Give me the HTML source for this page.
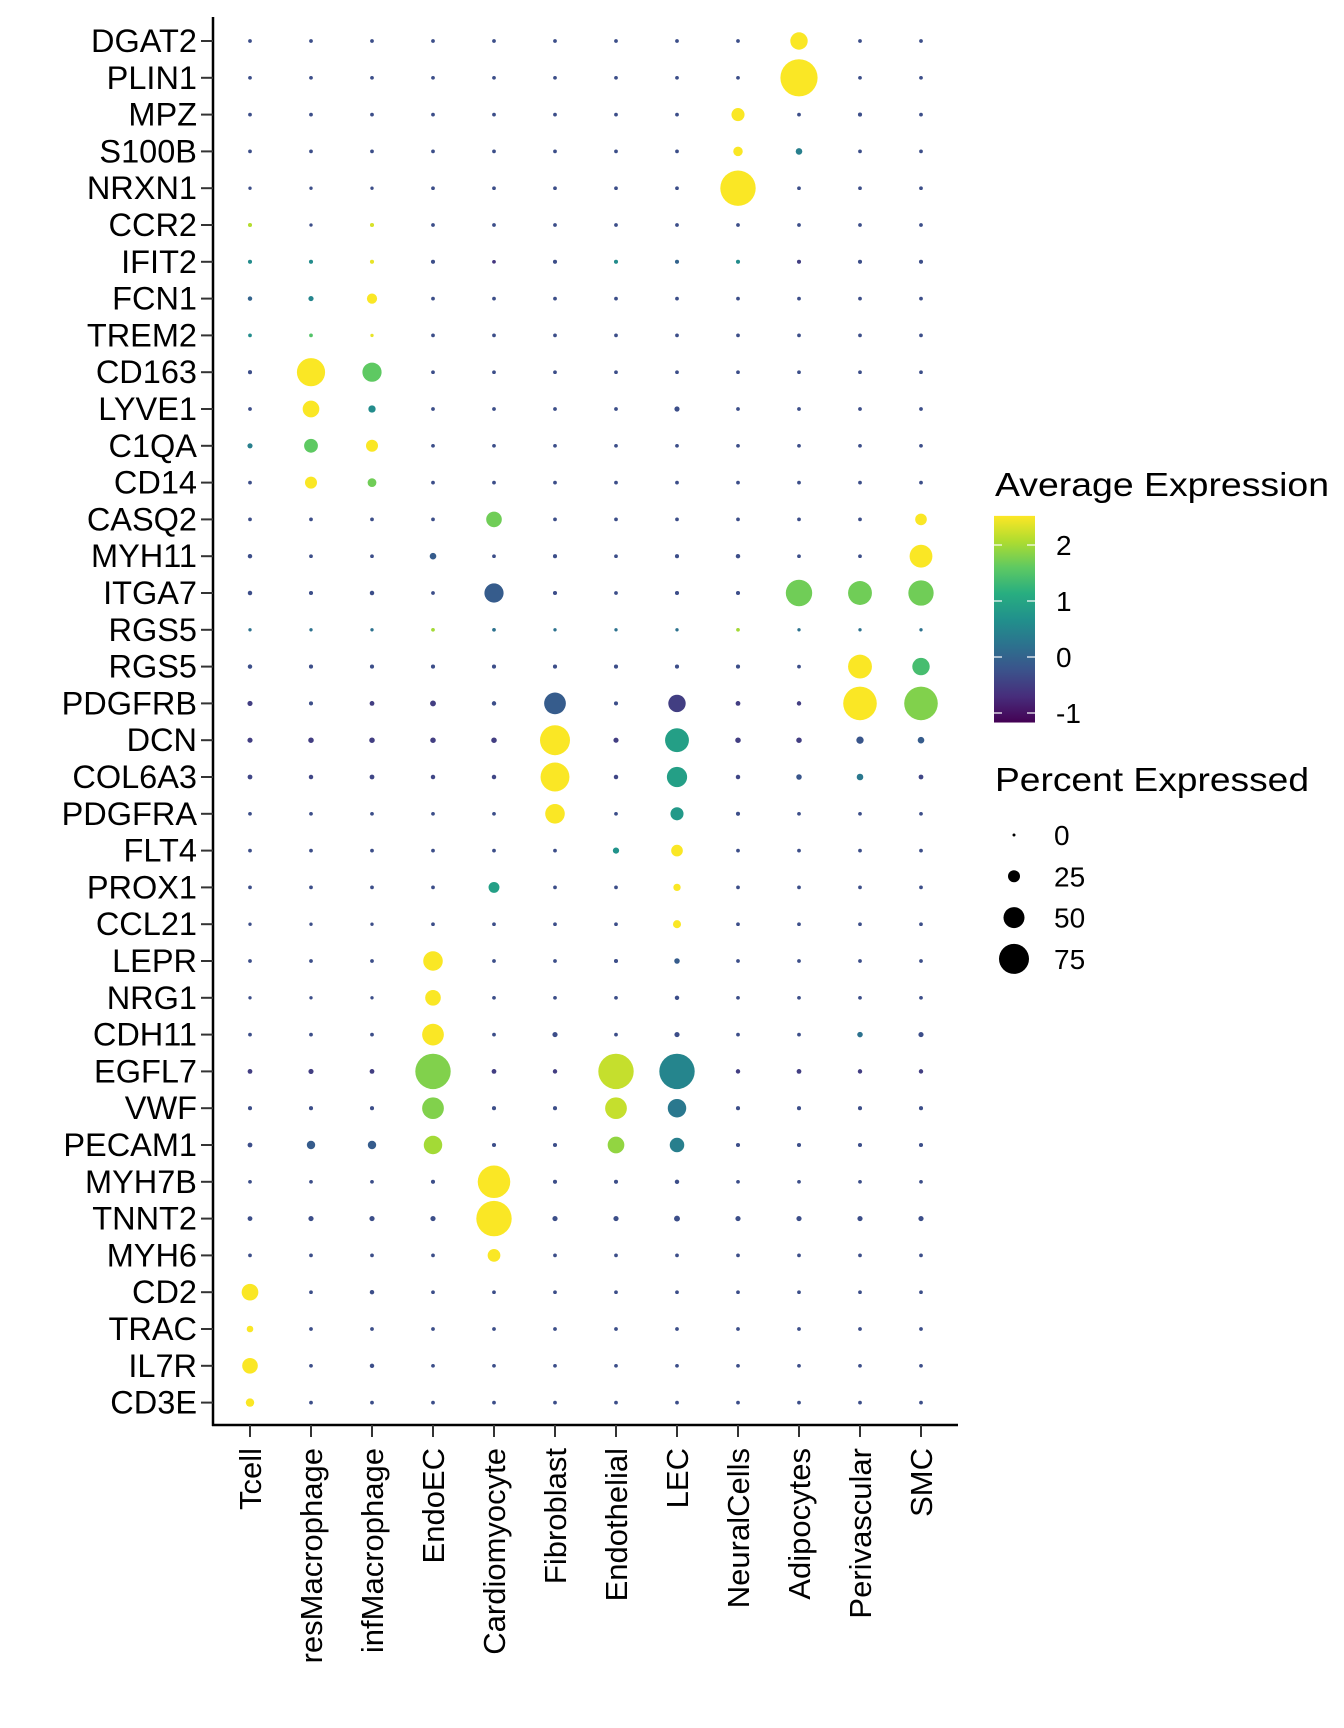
<!DOCTYPE html>
<html><head><meta charset="utf-8"><style>
html,body{margin:0;padding:0;background:#fff}
svg{display:block}
text{font-family:"Liberation Sans",Arial,sans-serif;fill:#000}
</style></head><body>
<svg id="chart" width="1344" height="1728" viewBox="0 0 1344 1728">
<defs>
<linearGradient id="vir" x1="0" y1="1" x2="0" y2="0">
<stop offset="0" stop-color="#440154"/><stop offset="0.125" stop-color="#472d7b"/><stop offset="0.25" stop-color="#3b528b"/><stop offset="0.375" stop-color="#2c728e"/><stop offset="0.5" stop-color="#21918c"/><stop offset="0.625" stop-color="#28ae80"/><stop offset="0.75" stop-color="#5ec962"/><stop offset="0.875" stop-color="#addc30"/><stop offset="1" stop-color="#fde725"/>
</linearGradient>
</defs>
<g id="plot"></g>
<g id="legend"></g>
</svg>
<script>
const genes = ["DGAT2","PLIN1","MPZ","S100B","NRXN1","CCR2","IFIT2","FCN1","TREM2","CD163","LYVE1","C1QA","CD14","CASQ2","MYH11","ITGA7","RGS5","RGS5","PDGFRB","DCN","COL6A3","PDGFRA","FLT4","PROX1","CCL21","LEPR","NRG1","CDH11","EGFL7","VWF","PECAM1","MYH7B","TNNT2","MYH6","CD2","TRAC","IL7R","CD3E"];
const cellTypes = ["Tcell","resMacrophage","infMacrophage","EndoEC","Cardiomyocyte","Fibroblast","Endothelial","LEC","NeuralCells","Adipocytes","Perivascular","SMC"];
const pctExpressed = [
[2,2,2,2,2,2,2,2,2,40,2,2],
[2,2,2,2,2,2,2,2,2,95,2,2],
[2,2,2,2,2,2,2,2,28,2,3,2],
[2,2,2,2,2,2,2,2,18,10,2,2],
[1,1,1,2,2,2,2,2,90,2,2,2],
[3,1,3,2,2,2,2,2,2,2,2,2],
[3,3,3,3,2,3,3,3,3,3,3,3],
[4,6,20,2,2,2,2,2,2,2,2,2],
[2,2,1,2,2,2,2,2,2,2,2,2],
[3,70,45,2,2,2,2,2,2,2,2,2],
[2,38,12,2,2,2,2,6,2,2,2,2],
[6,30,25,2,2,2,2,2,2,2,2,2],
[2,25,16,2,2,2,2,2,2,2,2,2],
[2,2,2,2,35,2,2,2,2,2,2,24],
[4,2,2,10,2,3,2,3,4,2,2,55],
[4,3,4,2,45,3,2,3,3,65,58,62],
[1,1,1,2,2,1,1,1,2,1,1,1],
[4,3,3,3,3,3,3,3,3,2,58,40],
[6,3,5,8,4,52,3,40,5,4,85,85],
[6,7,7,7,7,75,6,58,7,7,12,10],
[5,4,5,4,4,72,4,48,4,7,10,5],
[2,2,2,2,2,46,2,28,3,2,2,2],
[2,2,2,2,2,2,9,24,2,2,2,2],
[2,2,2,2,22,2,2,12,2,2,2,2],
[1,1,1,2,2,2,2,14,2,2,2,2],
[2,2,2,46,2,2,3,7,2,2,2,2],
[1,1,1,35,2,2,2,4,2,2,2,2],
[2,2,2,52,2,6,2,6,2,2,7,6],
[5,6,5,90,5,4,90,90,4,5,4,4],
[3,3,3,52,3,3,52,43,3,3,3,3],
[5,15,15,43,3,3,38,32,3,3,3,3],
[2,2,2,3,82,3,3,4,2,2,2,2],
[5,6,6,6,90,6,6,8,6,6,6,6],
[2,2,2,2,27,2,2,2,2,2,2,2],
[38,2,4,2,2,2,2,2,2,2,2,2],
[10,2,2,2,2,2,2,2,2,2,2,2],
[35,2,4,2,2,2,2,2,2,2,2,2],
[15,2,2,2,2,2,2,2,2,2,2,2]
];
const avgExpression = [
[-.3,-.3,-.3,-.3,-.3,-.3,-.3,-.3,-.3,2.5,-.3,-.3],
[-.3,-.3,-.3,-.3,-.3,-.3,-.3,-.3,-.3,2.5,-.3,-.3],
[-.3,-.3,-.3,-.3,-.3,-.3,-.3,-.3,2.5,-.3,-.3,-.3],
[-.3,-.3,-.3,-.3,-.3,-.3,-.3,-.3,2.5,.4,-.3,-.3],
[-.3,-.3,-.3,-.3,-.3,-.3,-.3,-.3,2.5,-.3,-.3,-.3],
[2.1,-.3,2.3,-.3,-.3,-.3,-.3,-.3,-.3,-.3,-.3,-.3],
[.6,.6,2.4,-.3,-.6,-.3,.6,0,.6,-.5,-.3,-.3],
[0,.5,2.5,-.3,-.3,-.3,-.3,-.3,-.3,-.3,-.3,-.3],
[.6,1.5,2.4,-.3,-.3,-.3,-.3,-.3,-.3,-.3,-.3,-.3],
[-.3,2.5,1.6,-.3,-.3,-.3,-.3,-.3,-.3,-.3,-.3,-.3],
[-.3,2.5,.6,-.3,-.3,-.3,-.3,-.3,-.3,-.3,-.3,-.3],
[.4,1.6,2.5,-.3,-.3,-.3,-.3,-.3,-.3,-.3,-.3,-.3],
[-.3,2.5,1.7,-.3,-.3,-.3,-.3,-.3,-.3,-.3,-.3,-.3],
[-.3,-.3,-.3,-.3,1.7,-.3,-.3,-.3,-.3,-.3,-.3,2.5],
[-.3,-.3,-.3,-.1,-.3,-.3,-.3,-.3,-.3,-.3,-.3,2.5],
[-.3,-.3,-.3,-.3,-.1,-.3,-.3,-.3,-.3,1.7,1.7,1.7],
[.2,.2,.2,2.0,.2,.2,.2,.2,2.0,.2,.2,.2],
[-.3,-.3,-.3,-.3,-.3,-.3,-.3,-.3,-.3,-.3,2.5,1.4],
[-.5,-.3,-.5,-.5,-.3,-.1,-.3,-.5,-.5,-.5,2.5,1.8],
[-.5,-.5,-.5,-.5,-.5,2.5,-.5,.9,-.5,-.5,-.2,-.1],
[-.4,-.4,-.4,-.4,-.4,2.5,-.4,.9,-.4,-.2,.3,-.4],
[-.3,-.3,-.3,-.3,-.3,2.5,-.3,.8,-.3,-.3,-.3,-.3],
[-.3,-.3,-.3,-.3,-.3,-.3,.7,2.5,-.3,-.3,-.3,-.3],
[-.3,-.3,-.3,-.3,.9,-.3,-.3,2.5,-.3,-.3,-.3,-.3],
[-.3,-.3,-.3,-.3,-.3,-.3,-.3,2.5,-.3,-.3,-.3,-.3],
[-.3,-.3,-.3,2.5,-.3,-.3,-.3,-.1,-.3,-.3,-.3,-.3],
[-.3,-.3,-.3,2.5,-.3,-.3,-.3,-.3,-.3,-.3,-.3,-.3],
[-.3,-.3,-.3,2.5,-.3,-.3,-.3,-.3,-.3,-.3,.2,-.3],
[-.5,-.5,-.5,1.8,-.5,-.5,2.2,.5,-.5,-.5,-.5,-.5],
[-.3,-.3,-.3,1.8,-.3,-.3,2.2,.3,-.3,-.3,-.3,-.3],
[-.3,-.1,-.1,2.0,-.3,-.3,1.9,.4,-.3,-.3,-.3,-.3],
[-.3,-.3,-.3,-.3,2.5,-.3,-.3,-.3,-.3,-.3,-.3,-.3],
[-.3,-.3,-.3,-.3,2.5,-.3,-.3,-.3,-.3,-.3,-.3,-.3],
[-.3,-.3,-.3,-.3,2.5,-.3,-.3,-.3,-.3,-.3,-.3,-.3],
[2.5,-.3,-.3,-.3,-.3,-.3,-.3,-.3,-.3,-.3,-.3,-.3],
[2.5,-.3,-.3,-.3,-.3,-.3,-.3,-.3,-.3,-.3,-.3,-.3],
[2.5,-.3,-.3,-.3,-.3,-.3,-.3,-.3,-.3,-.3,-.3,-.3],
[2.5,-.3,-.3,-.3,-.3,-.3,-.3,-.3,-.3,-.3,-.3,-.3]
];
const colorTicks = [2,1,0,-1];
const sizeTicks = [0,25,50,75];

const NS="http://www.w3.org/2000/svg";
function mk(tag,attrs,parent){const e=document.createElementNS(NS,tag);for(const k in attrs)e.setAttribute(k,attrs[k]);parent.appendChild(e);return e;}
const plot=document.getElementById('plot'), legend=document.getElementById('legend');
const X0=250, DX=61, Y0=41, DY=36.8;
const xPos=i=>X0+i*DX, yPos=j=>Y0+j*DY;
const rScale=p=>1.5+0.18*p;
const cMin=-1.17,cMax=2.52;
const vir=["#440154","#472d7b","#3b528b","#2c728e","#21918c","#28ae80","#5ec962","#addc30","#fde725"];
function hex(h){return [1,3,5].map(i=>parseInt(h.substr(i,2),16));}
function color(v){let t=(v-cMin)/(cMax-cMin);t=Math.max(0,Math.min(1,t));const f=t*8,i=Math.min(7,Math.floor(f)),u=f-i;const a=hex(vir[i]),b=hex(vir[i+1]);return 'rgb('+a.map((c,k)=>Math.round(c+(b[k]-c)*u)).join(',')+')';}
const cbY=v=>657-(v*56);

let ax=mk('line',{x1:213,y1:17,x2:213,y2:1426,stroke:'#000','stroke-width':2.5},plot);

ax=mk('line',{x1:212,y1:1425,x2:958,y2:1425,stroke:'#000','stroke-width':2.5},plot);


genes.forEach((g,j)=>{
  const y=yPos(j);
  const tk=mk('line',{x1:201,y1:y,x2:213,y2:y,stroke:'#333','stroke-width':2},plot);
  
  const t=mk('text',{x:197,y:y+11,'text-anchor':'end','font-size':32.5},plot);
  t.textContent=g;
  
});
cellTypes.forEach((c,i)=>{
  const x=xPos(i);
  const tk=mk('line',{x1:x,y1:1425,x2:x,y2:1437,stroke:'#333','stroke-width':2},plot);
  
  const t=mk('text',{x:0,y:0,'text-anchor':'end','font-size':31,transform:'translate('+(x+11)+',1448) rotate(-90)'},plot);
  t.textContent=c;
  
});
genes.forEach((g,j)=>{
  cellTypes.forEach((c,i)=>{
    const d=mk('circle',{cx:xPos(i),cy:yPos(j),r:rScale(pctExpressed[j][i]),fill:color(avgExpression[j][i])},plot);
    
    
  });
});

let lt=mk('text',{x:995,y:496,'font-size':33,textLength:334,lengthAdjust:'spacingAndGlyphs'},legend);lt.textContent='Average Expression';

let cb=mk('rect',{x:994,y:cbY(cMax),width:41,height:cbY(cMin)-cbY(cMax),fill:'url(#vir)'},legend);

colorTicks.forEach(v=>{
  const y=cbY(v);
  let l=mk('line',{x1:994,y1:y,x2:1002,y2:y,stroke:'#fff','stroke-width':1.2},legend);
  
  l=mk('line',{x1:1027,y1:y,x2:1035,y2:y,stroke:'#fff','stroke-width':1.2},legend);
  
  const t=mk('text',{x:1056,y:y+10,'font-size':28},legend);t.textContent=String(v);
  
});
lt=mk('text',{x:995,y:791,'font-size':33,textLength:314,lengthAdjust:'spacingAndGlyphs'},legend);lt.textContent='Percent Expressed';

sizeTicks.forEach((p,k)=>{
  const y=835+k*41.3;
  const c=mk('circle',{cx:1014,cy:y,r:rScale(p),fill:'#000'},legend);
  
  const t=mk('text',{x:1054,y:y+10,'font-size':28},legend);t.textContent=String(p);
  
});
</script>
</body></html>
